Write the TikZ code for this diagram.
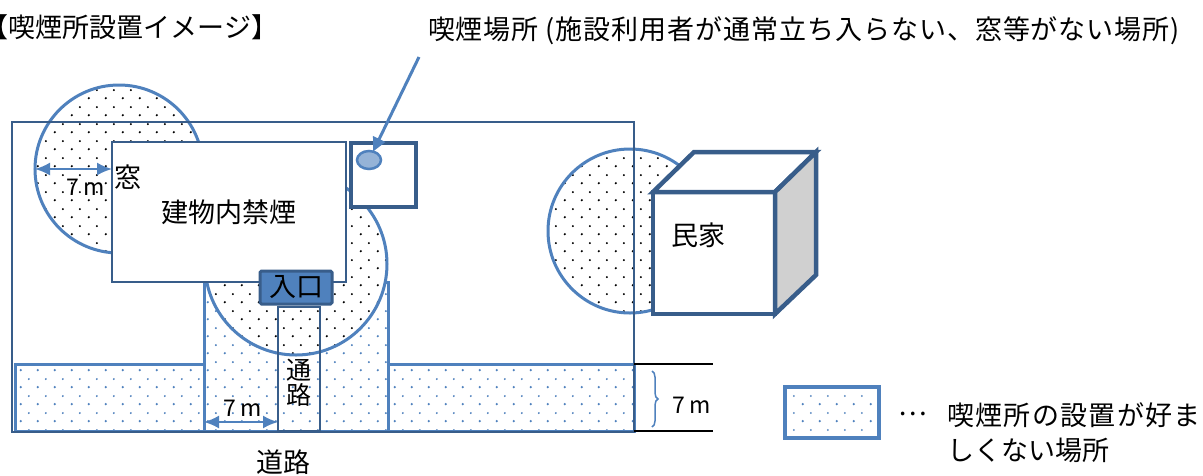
\documentclass[tikz,border=0pt]{standalone}
\usepackage{fontspec}
\setmainfont{Noto Sans CJK JP}
\usetikzlibrary{arrows.meta,patterns,shapes.geometric,decorations.pathreplacing}
\definecolor{accentblue}{HTML}{4F81BD}
\definecolor{darkblue}{HTML}{385D8A}
\definecolor{pointblue}{HTML}{95B3D7}
\definecolor{sidegray}{HTML}{D0D0D0}
\pgfdeclarepatternformonly{zonedots}{\pgfpointorigin}{\pgfqpoint{17pt}{17pt}}{\pgfqpoint{17pt}{17pt}}{%
  \pgfpathcircle{\pgfqpoint{4pt}{4pt}}{1.3pt}%
  \pgfpathcircle{\pgfqpoint{12.5pt}{12.5pt}}{1.1pt}%
  \pgfusepath{fill}}
\begin{document}
\begin{tikzpicture}[x=1pt,y=-1pt,
  every node/.style={inner sep=0pt,outer sep=0pt,font=\fontsize{27}{30}\selectfont},
  zone/.style={draw=accentblue,line width=3pt,preaction={fill=white},pattern=zonedots,pattern color=accentblue},
  smokezone/.style={circle,draw=accentblue,line width=3pt,preaction={fill=white},pattern=zonedots,pattern color=black},
  wall/.style={draw=darkblue,line width=4.5pt,fill=white},
  measure/.style={accentblue,line width=2pt,{Latex[length=15pt,width=13pt]}-{Latex[length=15pt,width=13pt]}},
  small/.style={font=\fontsize{23}{26}\selectfont}]
\useasboundingbox (0,0) rectangle (1203,475);

\node[zone,minimum width=619pt,minimum height=67pt] (road) at (324.5,397.5) {};
\node[zone,minimum width=184pt,minimum height=149pt] (stem) at (296,356.5) {};

\node[smokezone,minimum size=168pt] (winzone) at (119,169) {};
\node[smokezone,minimum size=182pt] (entzone) at (296,264) {};
\node[smokezone,minimum size=164pt] (housezone) at (630,231) {};

\draw[darkblue,line width=1.2pt] (12,122) rectangle (634,432);

\node[draw=darkblue,line width=1.2pt,fill=white,minimum width=234pt,minimum height=140pt] (bldg) at (229,212) {建物内禁煙};

\node[wall,minimum width=65pt,minimum height=64pt] (smokebox) at (383.5,175) {};
\node[ellipse,draw=accentblue,fill=pointblue,line width=2.5pt,minimum width=24pt,minimum height=18pt] (smokept) at (369,160) {};

\node[wall,minimum width=122pt,minimum height=122pt] (house) at (714,253) {};
\draw[wall] (house.north west) -- ++(41,-40) -- ++(122,0) -- (house.north east) -- cycle;
\draw[wall,fill=sidegray] (house.north east) -- ++(41,-40) -- ++(0,123) -- (house.south east) -- cycle;
\node (houselbl) at (698,235) {民家};

\node[draw=darkblue,fill=accentblue,line width=3pt,rounded corners=1.5pt,minimum width=72pt,minimum height=33pt] (entrance) at (296,287.5) {入口};
\node[draw=darkblue,line width=2pt,minimum width=42pt,minimum height=124pt] (path) at (299,369) {};
\node[align=center,font=\fontsize{25}{25}\selectfont] (pathlbl) at (299,383) {通\\路};

\draw[measure] (winzone.west) -- (winzone.west -| bldg.west);
\node[small] (winm) at (86,187) {7\hspace{4pt}m};
\node (winlbl) at (128,177) {窓};

\coordinate (roadmark) at (0,422);
\draw[measure] (stem.west |- roadmark) -- (path.west |- roadmark);
\node[small] (stemm) at (243,408) {7\hspace{4pt}m};
\node (roadlbl) at (283,462) {道路};

\coordinate (dimtop) at (713,366);
\coordinate (dimbot) at (713,432);
\draw[black,line width=1.5pt] (road.north east) -- (road.north east -| dimtop);
\draw[black,line width=1.5pt] (road.south east) -- (road.south east -| dimbot);
\draw[accentblue,line width=1.5pt,decorate,decoration={brace,amplitude=6pt}] (652,371) -- (652,427);
\node[small] (roadm) at (692,405) {7\hspace{4pt}m};

\node[zone,line width=4pt,minimum width=94pt,minimum height=51pt] (legbox) at (832,412.5) {};
\node (legdots) at (913,414) {…};
\node[anchor=west] (legline1) at (947,415) {\addfontfeature{LetterSpace=5}喫煙所の設置が好ま};
\node[anchor=west] (legline2) at (947,450) {しくない場所};

\node[anchor=west] (calltext) at (428,31) {\addfontfeature{LetterSpace=3.5}喫煙場所 (施設利用者が通常立ち入らない、窓等がない場所)};
\coordinate (callfoot) at (419,57);
\draw[accentblue,line width=3pt,-{Triangle[length=14pt,width=13pt]}] (callfoot) -- (smokept);

\node[anchor=west] (title) at (-18,27) {【喫煙所設置イメージ】};
\end{tikzpicture}
\end{document}
